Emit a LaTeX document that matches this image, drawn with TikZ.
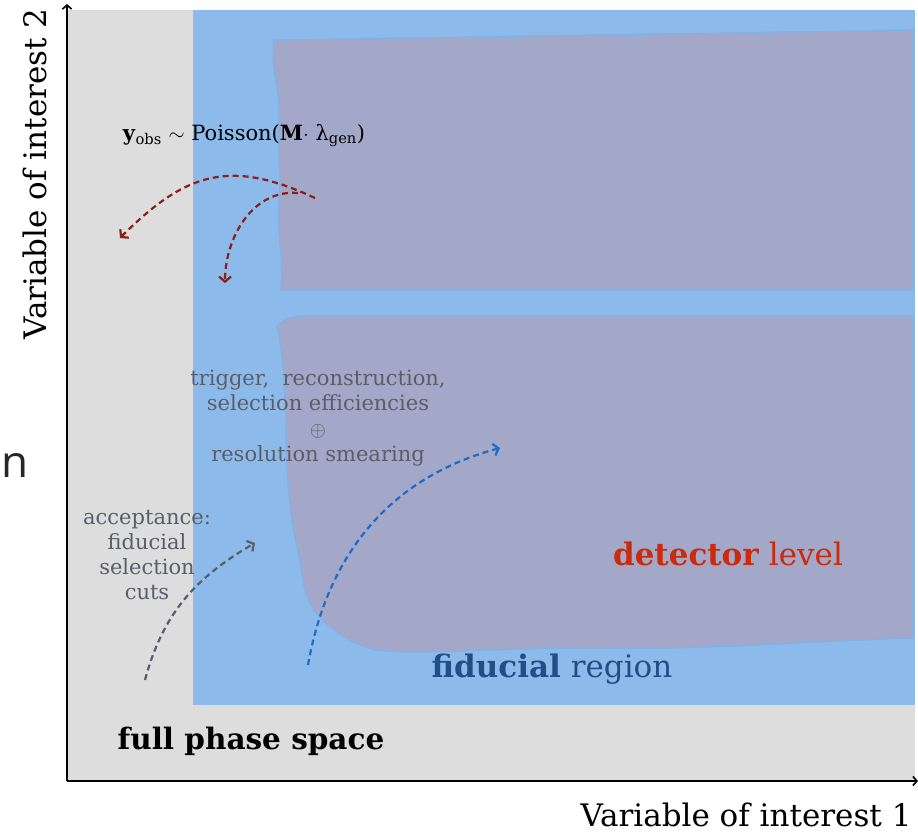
\documentclass[tikz,border=0pt]{standalone}
\usepackage{fontspec}
\setmainfont{DejaVu Serif}
\newfontfamily\slidefont{Open Sans}
\usetikzlibrary{arrows,arrows.meta}
\definecolor{phasegray}{HTML}{DDDDDD}
\definecolor{fidblue}{HTML}{8CBBEB}
\definecolor{fidedge}{HTML}{7DB2EC}
\definecolor{detpurple}{HTML}{A3A7C8}
\definecolor{foldred}{HTML}{8E1E1A}
\definecolor{effblue}{HTML}{1E6BC8}
\definecolor{notegray}{HTML}{5A5E68}
\definecolor{detred}{HTML}{CC2A0A}
\definecolor{fiddark}{HTML}{1F4F86}
\tikzset{
    axis/.style={
        draw,
        line width=1.6pt,
        -{Straight Barb[length=4pt,width=9pt]}},
    flow/.style={
        draw,
        line width=2.2pt,
        dash pattern=on 6pt off 4pt,
        -{Straight Barb[length=5pt,width=12pt]}},
    note/.style={
        align=center,
        text=notegray,
        font=\fontsize{21}{25.5}\selectfont},
    big/.style={
        font=\fontsize{31}{34}\selectfont},
    detregion/.style={
        fill=detpurple,
        draw=fidedge,
        line width=1.2pt}}

\begin{document}
\begin{tikzpicture}[x=1pt,y=-1pt]
        \useasboundingbox (0,0) rectangle (918,835);
        % phase space regions
        \fill[phasegray] (67,10) rectangle (915,780);
        \fill[fidblue] (193,10) rectangle (915,705);
        \path[detregion] (274,40) -- (913,30) -- (913,290) -- (281,290)
            .. controls (284,260) and (276,230) .. (279,200)
            .. controls (282,160) and (276,140) .. (279,120)
            .. controls (281,90) and (270,70) .. (274,40) -- cycle;
        \path[detregion] (277,326) .. controls (285,318) and (295,316) .. (305,316)
            -- (913,316) -- (913,638)
            .. controls (800,642) and (700,650) .. (600,648)
            .. controls (500,648) and (420,655) .. (375,650)
            .. controls (345,642) and (325,625) .. (314,610)
            .. controls (304,595) and (302,575) .. (300,560)
            .. controls (290,520) and (286,480) .. (286,430)
            .. controls (285,390) and (283,350) .. (277,326) -- cycle;

        % axes
        \coordinate (origin) at (67,781);
        \coordinate (ytip) at (67,4);
        \coordinate (xtip) at (918,781);
        \draw[axis] (origin) -- (ytip);
        \draw[axis] (origin) -- (xtip);

        % labels
        \node[big,inner sep=1pt] (xlabel) at (746,815) {Variable of interest 1};
        \node[big,rotate=90] (ylabel) at (35,174) {Variable of interest 2};
        \node[font=\slidefont\fontsize{44}{48}\selectfont,text=black!85,inner sep=0pt,anchor=west] (stray) at (1,466) {n};
        \node[font=\bfseries\fontsize{29.5}{32}\selectfont] (full) at (251,741) {full phase space};
        \node[big,text=fiddark] (fid) at (552,669) {\textbf{fiducial} region};
        \node[big,text=detred] (det) at (728,554) {\textbf{detector} level};
        \node[font=\fontsize{21}{24}\selectfont] (unfold) at (244,136)
            {\textbf{y}\textsubscript{obs} $\sim$ Poisson(\textbf{M}$\cdot$ λ\textsubscript{gen})};
        \node[note] (eff) at (318,418) {trigger,~ reconstruction,\\selection efficiencies\\$\oplus$\\resolution smearing};
        \node[note,font=\fontsize{21}{25}\selectfont] (acc) at (147,555) {acceptance:\\fiducial\\selection\\cuts};

        % arrows
        \coordinate (foldA) at (315,198);
        \coordinate (foldB) at (298,193);
        \coordinate (outA) at (120,238);
        \coordinate (outB) at (225,283);
        \coordinate (effsrc) at (308,665);
        \coordinate (effdst) at (500,448);
        \coordinate (accsrc) at (145,680);
        \coordinate (accdst) at (255,543);
        \draw[flow,foldred] (foldA) to[out=155,in=45,looseness=1.2] (outA);
        \draw[flow,foldred] (foldB) to[out=175,in=90] (outB);
        \draw[flow,effblue] (effsrc) to[out=80,in=195] (effdst);
        \draw[flow,notegray] (accsrc) to[out=75,in=210] (accdst);
    \end{tikzpicture}
\end{document}
